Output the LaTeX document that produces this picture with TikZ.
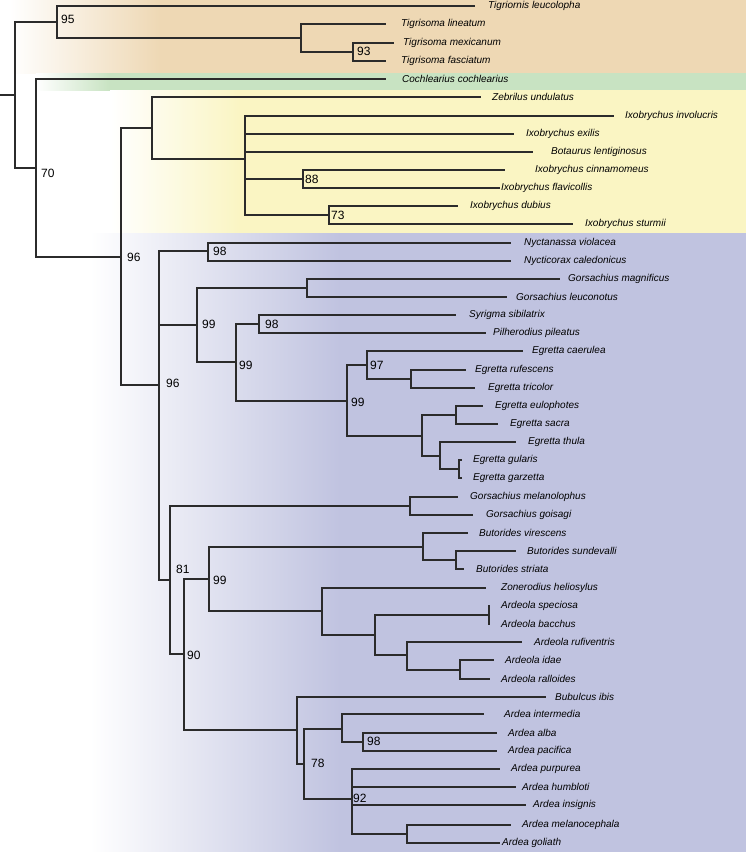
\documentclass[tikz,border=0pt]{standalone}
\usepackage{fontspec}
\setmainfont{Liberation Sans}
\definecolor{tanbg}{HTML}{EED8B4}
\definecolor{greenbg}{HTML}{C8E3C2}
\definecolor{yellowbg}{HTML}{FAF5C3}
\definecolor{bluebg}{HTML}{C0C3E0}
\definecolor{linegray}{HTML}{2B2B2B}
\tikzset{
  leaf/.style={anchor=west, inner sep=0pt, font=\fontsize{10}{12}\selectfont\itshape},
  boot/.style={anchor=west, inner sep=0pt, font=\fontsize{12}{14}\selectfont},
  br/.style={line width=1.2pt, draw=linegray}
}
\begin{document}
\begin{tikzpicture}[x=1pt,y=-1pt]
\useasboundingbox (0,0) rectangle (746,852);
% coloured bands behind the clades
\shade[left color=white, right color=tanbg] (10,0) rectangle (160,73);
\fill[tanbg] (160,0) rectangle (746,73);
\shade[left color=white, right color=greenbg] (36,73) rectangle (110,90);
\fill[greenbg] (110,73) rectangle (746,90);
\shade[left color=white, right color=yellowbg] (110,90) rectangle (240,233);
\fill[yellowbg] (240,90) rectangle (746,233);
\shade[left color=white, right color=bluebg] (90,233) rectangle (340,852);
\fill[bluebg] (340,233) rectangle (746,852);

% internal nodes
\coordinate (stem) at (0,95);
\coordinate (root) at (15,95);
\coordinate (n95) at (57,22);
\coordinate (tig) at (301,38);
\coordinate (n93) at (353,52);
\coordinate (n70) at (36,168);
\coordinate (n96a) at (121,257);
\coordinate (bitt) at (152,128);
\coordinate (ixo) at (245,159);
\coordinate (n88) at (303,179);
\coordinate (n73) at (329,215);
\coordinate (n96b) at (159,385);
\coordinate (n98a) at (208,251);
\coordinate (n99a) at (197,325);
\coordinate (gors) at (307,288);
\coordinate (n99b) at (236,362);
\coordinate (n98b) at (259,324);
\coordinate (n99c) at (347,401);
\coordinate (n97) at (367,365);
\coordinate (rt) at (411,379);
\coordinate (egr) at (422,436);
\coordinate (es) at (456,415);
\coordinate (eg) at (440,456);
\coordinate (gg) at (459,469);
\coordinate (n81) at (170,580);
\coordinate (gm) at (410,506);
\coordinate (n90) at (184,654);
\coordinate (n99d) at (209,579);
\coordinate (but) at (423,547);
\coordinate (but2) at (456,560);
\coordinate (ardl) at (322,611);
\coordinate (ardla) at (375,635);
\coordinate (sb) at (489,615);
\coordinate (ardlb) at (407,655);
\coordinate (ir) at (460,670);
\coordinate (ard) at (297,730);
\coordinate (n78) at (304,764);
\coordinate (aia) at (342,729);
\coordinate (n98c) at (363,742);
\coordinate (n92) at (352,799);
\coordinate (mg) at (407,834);

% leaves: branch tip, then name
\coordinate (tleu) at (475,6);   \node[leaf] (tleu-l) at (488,6) {Tigriornis leucolopha};
\coordinate (tlin) at (386,24);  \node[leaf] (tlin-l) at (401,24) {Tigrisoma lineatum};
\coordinate (tmex) at (394,43);  \node[leaf] (tmex-l) at (403,43) {Tigrisoma mexicanum};
\coordinate (tfas) at (386,61);  \node[leaf] (tfas-l) at (401,61) {Tigrisoma fasciatum};
\coordinate (ccoc) at (386,79);  \node[leaf] (ccoc-l) at (402,79) {Cochlearius cochlearius};
\coordinate (zund) at (481,97);  \node[leaf] (zund-l) at (492,97) {Zebrilus undulatus};
\coordinate (iinv) at (614,116); \node[leaf] (iinv-l) at (625,116) {Ixobrychus involucris};
\coordinate (iexi) at (514,134); \node[leaf] (iexi-l) at (526,134) {Ixobrychus exilis};
\coordinate (blen) at (533,152); \node[leaf] (blen-l) at (551,152) {Botaurus lentiginosus};
\coordinate (icin) at (505,170); \node[leaf] (icin-l) at (535,170) {Ixobrychus cinnamomeus};
\coordinate (ifla) at (500,188); \node[leaf] (ifla-l) at (501,188) {Ixobrychus flavicollis};
\coordinate (idub) at (458,206); \node[leaf] (idub-l) at (470,206) {Ixobrychus dubius};
\coordinate (istu) at (573,224); \node[leaf] (istu-l) at (585,224) {Ixobrychus sturmii};
\coordinate (nvio) at (511,243); \node[leaf] (nvio-l) at (524,243) {Nyctanassa violacea};
\coordinate (ncal) at (511,261); \node[leaf] (ncal-l) at (524,261) {Nycticorax caledonicus};
\coordinate (gmag) at (560,279); \node[leaf] (gmag-l) at (568,279) {Gorsachius magnificus};
\coordinate (gleu) at (507,297); \node[leaf] (gleu-l) at (516,297) {Gorsachius leuconotus};
\coordinate (ssib) at (456,315); \node[leaf] (ssib-l) at (469,315) {Syrigma sibilatrix};
\coordinate (ppil) at (486,333); \node[leaf] (ppil-l) at (493,333) {Pilherodius pileatus};
\coordinate (ecae) at (523,351); \node[leaf] (ecae-l) at (532,351) {Egretta caerulea};
\coordinate (eruf) at (466,370); \node[leaf] (eruf-l) at (475,370) {Egretta rufescens};
\coordinate (etri) at (475,388); \node[leaf] (etri-l) at (488,388) {Egretta tricolor};
\coordinate (eeul) at (483,406); \node[leaf] (eeul-l) at (495,406) {Egretta eulophotes};
\coordinate (esac) at (498,424); \node[leaf] (esac-l) at (510,424) {Egretta sacra};
\coordinate (ethu) at (516,442); \node[leaf] (ethu-l) at (528,442) {Egretta thula};
\coordinate (egul) at (462,460); \node[leaf] (egul-l) at (473,460) {Egretta gularis};
\coordinate (egar) at (462,478); \node[leaf] (egar-l) at (473,478) {Egretta garzetta};
\coordinate (gmel) at (458,497); \node[leaf] (gmel-l) at (470,497) {Gorsachius melanolophus};
\coordinate (ggoi) at (473,515); \node[leaf] (ggoi-l) at (486,515) {Gorsachius goisagi};
\coordinate (bvir) at (468,533); \node[leaf] (bvir-l) at (479,533) {Butorides virescens};
\coordinate (bsun) at (516,551); \node[leaf] (bsun-l) at (527,551) {Butorides sundevalli};
\coordinate (bstr) at (464,569); \node[leaf] (bstr-l) at (476,569) {Butorides striata};
\coordinate (zhel) at (486,588); \node[leaf] (zhel-l) at (501,588) {Zonerodius heliosylus};
\coordinate (aspe) at (490,606); \node[leaf] (aspe-l) at (501,606) {Ardeola speciosa};
\coordinate (abac) at (490,624); \node[leaf] (abac-l) at (501,624) {Ardeola bacchus};
\coordinate (aruf) at (522,642); \node[leaf] (aruf-l) at (534,642) {Ardeola rufiventris};
\coordinate (aida) at (494,660); \node[leaf] (aida-l) at (505,660) {Ardeola idae};
\coordinate (aral) at (490,679); \node[leaf] (aral-l) at (501,679) {Ardeola ralloides};
\coordinate (bibi) at (546,697); \node[leaf] (bibi-l) at (555,697) {Bubulcus ibis};
\coordinate (aint) at (484,714); \node[leaf] (aint-l) at (504,714) {Ardea intermedia};
\coordinate (aalb) at (497,733); \node[leaf] (aalb-l) at (508,733) {Ardea alba};
\coordinate (apac) at (497,751); \node[leaf] (apac-l) at (508,751) {Ardea pacifica};
\coordinate (apur) at (500,769); \node[leaf] (apur-l) at (511,769) {Ardea purpurea};
\coordinate (ahum) at (516,787); \node[leaf] (ahum-l) at (522,787) {Ardea humbloti};
\coordinate (ains) at (526,805); \node[leaf] (ains-l) at (533,805) {Ardea insignis};
\coordinate (amel) at (511,825); \node[leaf] (amel-l) at (522,825) {Ardea melanocephala};
\coordinate (agol) at (500,843); \node[leaf] (agol-l) at (502,843) {Ardea goliath};

% branches
\draw[br] (stem) -- (root);
\draw[br] (root) |- (n95) (root) |- (n70);
\draw[br] (n95) |- (tleu) (n95) |- (tig);
\draw[br] (tig) |- (tlin) (tig) |- (n93);
\draw[br] (n93) |- (tmex) (n93) |- (tfas);
\draw[br] (n70) |- (ccoc) (n70) |- (n96a);
\draw[br] (n96a) |- (bitt) (n96a) |- (n96b);
\draw[br] (bitt) |- (zund) (bitt) |- (ixo);
\draw[br] (ixo) |- (iinv) (ixo) |- (iexi) (ixo) |- (blen) (ixo) |- (n88) (ixo) |- (n73);
\draw[br] (n88) |- (icin) (n88) |- (ifla);
\draw[br] (n73) |- (idub) (n73) |- (istu);
\draw[br] (n96b) |- (n98a) (n96b) |- (n99a) (n96b) |- (n81);
\draw[br] (n98a) |- (nvio) (n98a) |- (ncal);
\draw[br] (n99a) |- (gors) (n99a) |- (n99b);
\draw[br] (gors) |- (gmag) (gors) |- (gleu);
\draw[br] (n99b) |- (n98b) (n99b) |- (n99c);
\draw[br] (n98b) |- (ssib) (n98b) |- (ppil);
\draw[br] (n99c) |- (n97) (n99c) |- (egr);
\draw[br] (n97) |- (ecae) (n97) |- (rt);
\draw[br] (rt) |- (eruf) (rt) |- (etri);
\draw[br] (egr) |- (es) (egr) |- (eg);
\draw[br] (es) |- (eeul) (es) |- (esac);
\draw[br] (eg) |- (ethu) (eg) |- (gg);
\draw[br] (gg) |- (egul) (gg) |- (egar);
\draw[br] (n81) |- (gm) (n81) |- (n90);
\draw[br] (gm) |- (gmel) (gm) |- (ggoi);
\draw[br] (n90) |- (n99d) (n90) |- (ard);
\draw[br] (n99d) |- (but) (n99d) |- (ardl);
\draw[br] (but) |- (bvir) (but) |- (but2);
\draw[br] (but2) |- (bsun) (but2) |- (bstr);
\draw[br] (ardl) |- (zhel) (ardl) |- (ardla);
\draw[br] (ardla) |- (sb) (ardla) |- (ardlb);
\draw[br] (sb) |- (aspe) (sb) |- (abac);
\draw[br] (ardlb) |- (aruf) (ardlb) |- (ir);
\draw[br] (ir) |- (aida) (ir) |- (aral);
\draw[br] (ard) |- (bibi) (ard) |- (n78);
\draw[br] (n78) |- (aia) (n78) |- (n92);
\draw[br] (aia) |- (aint) (aia) |- (n98c);
\draw[br] (n98c) |- (aalb) (n98c) |- (apac);
\draw[br] (n92) |- (apur) (n92) |- (ahum) (n92) |- (ains) (n92) |- (mg);
\draw[br] (mg) |- (amel) (mg) |- (agol);

% support values
\node[boot] (b95) at (61,19) {95};
\node[boot] (b93) at (357,51) {93};
\node[boot] (b70) at (41,173) {70};
\node[boot] (b88) at (305,179) {88};
\node[boot] (b73) at (331,215) {73};
\node[boot] (b96a) at (127,257) {96};
\node[boot] (b98a) at (213,251) {98};
\node[boot] (b99a) at (202,324) {99};
\node[boot] (b98b) at (265,324) {98};
\node[boot] (b99b) at (239,365) {99};
\node[boot] (b96b) at (166,383) {96};
\node[boot] (b97) at (370,365) {97};
\node[boot] (b99c) at (351,402) {99};
\node[boot] (b81) at (176,569) {81};
\node[boot] (b99d) at (213,580) {99};
\node[boot] (b90) at (187,655) {90};
\node[boot] (b78) at (311,763) {78};
\node[boot] (b98c) at (367,741) {98};
\node[boot] (b92) at (353,798) {92};
\end{tikzpicture}
\end{document}
